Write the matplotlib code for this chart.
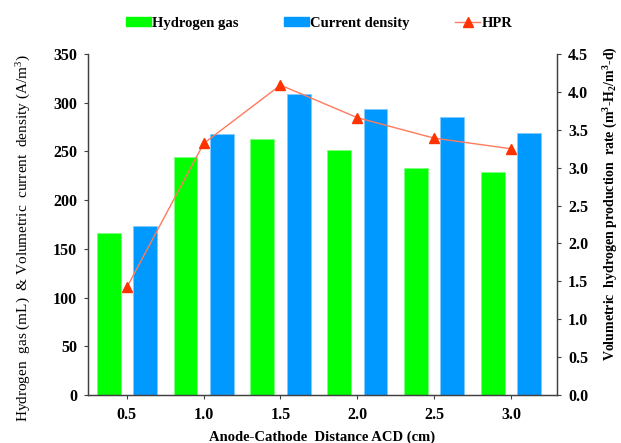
import numpy as np
import matplotlib
matplotlib.use("Agg")
import matplotlib.pyplot as plt
from matplotlib.lines import Line2D
from matplotlib.patches import Patch

# Số liệu
acd = [0.5, 1.0, 1.5, 2.0, 2.5, 3.0]
hydrogen_gas = [166, 244, 263, 251, 233, 229]
current_density = [173, 268, 309, 294, 285, 269]
hpr = [1.42, 3.32, 4.09, 3.66, 3.39, 3.25]

plt.rcParams['font.family'] = ['Liberation Serif', 'DejaVu Serif']
plt.rcParams['mathtext.fontset'] = 'custom'
plt.rcParams['mathtext.rm'] = 'Liberation Serif'
plt.rcParams['mathtext.it'] = 'Liberation Serif:italic'
plt.rcParams['mathtext.bf'] = 'Liberation Serif:bold'

green = '#00FF00'
blue = '#0099FF'
line_col = '#FF7A5C'
marker_col = '#FF3300'
axis_col = '#404040'

fig = plt.figure(figsize=(6.21, 4.43), dpi=100)
ax = fig.add_axes([0.1417, 0.1084, 0.7553, 0.7696])

x = np.array(acd)
off = 0.118
w = 0.155
ax.bar(x - off, hydrogen_gas, width=w, color=green, edgecolor='#7FFF7F', linewidth=0.6)
ax.bar(x + off, current_density, width=w, color=blue, edgecolor='#7FCCFF', linewidth=0.6)

ax.set_xlim(0.247, 3.30)
ax.set_ylim(0, 350)
ax.set_yticks(np.arange(0, 351, 50))
ax.set_xticks(acd)
ax.set_xticklabels([f"{v:.1f}" for v in acd])

ax2 = ax.twinx()
ax2.plot(x, hpr, color=line_col, linewidth=1.0, marker='^', markersize=7,
         markerfacecolor=marker_col, markeredgecolor=marker_col, zorder=5)
ax2.set_ylim(0, 4.5)
ax2.set_yticks(np.arange(0, 4.51, 0.5))
ax2.set_yticklabels([f"{v:.1f}" for v in np.arange(0, 4.51, 0.5)])

for a in (ax, ax2):
    a.spines['top'].set_visible(False)
    for s in ('left', 'right', 'bottom'):
        a.spines[s].set_color(axis_col)
        a.spines[s].set_linewidth(0.9)
    a.tick_params(direction='out', length=3, width=0.8, color=axis_col,
                  labelsize=11.5, pad=5)
    for lbl in a.get_xticklabels() + a.get_yticklabels():
        lbl.set_fontweight('bold')

ax.tick_params(axis='x', pad=6)

ax.set_xlabel("Anode-Cathode  Distance ACD (cm)", fontsize=10.5, fontweight='bold', labelpad=5)
ax.set_ylabel("Hydrogen  gas (mL)  & Volumetric  current  density (A/m$^3$)",
              fontsize=11)
ax.yaxis.set_label_coords(-0.118, 0.46)
ax2.set_ylabel(r"Volumetric  hydrogen production  rate (m$^\mathbf{3}$-H$_\mathbf{2}$/m$^\mathbf{3}$-d)",
               fontsize=10, fontweight='bold')
ax2.yaxis.set_label_coords(1.096, 0.56)

handles = [
    Patch(facecolor=green, edgecolor=green),
    Patch(facecolor=blue, edgecolor=blue),
    Line2D([0], [0], color=line_col, linewidth=1.0, marker='^', markersize=7,
           markerfacecolor=marker_col, markeredgecolor=marker_col),
]
labels = ["Hydrogen gas", "Current density", "HPR"]
fig.legend(handles, labels, loc='center', bbox_to_anchor=(0.514, 0.948), ncol=3,
           frameon=False, prop={'weight': 'bold', 'size': 10.5},
           handlelength=1.7, handletextpad=0.1, columnspacing=3.1,
           handleheight=0.6)

fig.savefig("out.png", dpi=100)
